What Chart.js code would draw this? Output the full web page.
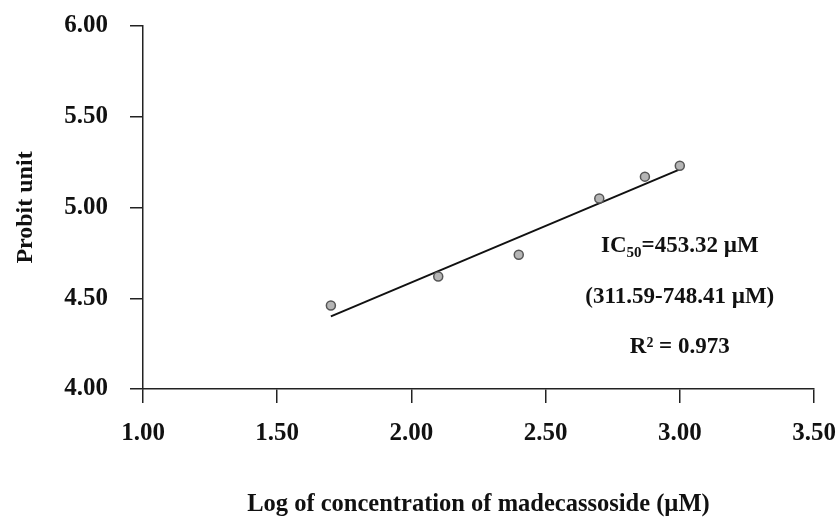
<!DOCTYPE html>
<html>
<head>
<meta charset="utf-8">
<script src="https://cdn.jsdelivr.net/npm/chart.js@4"></script>
<style>
  html, body { margin: 0; padding: 0; background: #fff; }
  #wrap { width: 837px; height: 524px; }
</style>
</head>
<body>
<div id="wrap"><canvas id="probit"></canvas></div>
<script>
// log concentration vs probit values
const logConc = [1.70, 2.10, 2.40, 2.70, 2.87, 3.00];
const probit = [4.46, 4.62, 4.74, 5.05, 5.17, 5.23];

// fitted regression line end points
const fitX = [1.70, 3.00];
const fitY = [4.40, 5.21];

const xTicks = [1.00, 1.50, 2.00, 2.50, 3.00, 3.50];
const yTicks = [4.00, 4.50, 5.00, 5.50, 6.00];

const serif = '"Liberation Serif", "Times New Roman", serif';

// text block on the right: IC50 result, interval, R²
const statsText = {
  id: 'statsText',
  afterDraw(chart) {
    const { ctx, scales: { x, y } } = chart;
    const cx = x.getPixelForValue(3.0);
    ctx.save();
    ctx.fillStyle = '#111';
    ctx.textBaseline = 'middle';

    // IC50 with subscript
    const y1 = y.getPixelForValue(4.79);
    const big = 'bold 23px ' + serif;
    const small = 'bold 15px ' + serif;
    ctx.font = big;
    const wIC = ctx.measureText('IC').width;
    const wRest = ctx.measureText('=453.32 µM').width;
    ctx.font = small;
    const wSub = ctx.measureText('50').width;
    const left = cx - (wIC + wSub + wRest) / 2;
    ctx.textAlign = 'left';
    ctx.font = big;
    ctx.fillText('IC', left, y1);
    ctx.font = small;
    ctx.fillText('50', left + wIC, y1 + 8);
    ctx.font = big;
    ctx.fillText('=453.32 µM', left + wIC + wSub, y1);

    ctx.textAlign = 'center';
    ctx.fillText('(311.59-748.41 µM)', cx, y.getPixelForValue(4.505));
    ctx.fillText('R² = 0.973', cx, y.getPixelForValue(4.23));
    ctx.restore();
  }
};

new Chart(document.getElementById('probit'), {
  type: 'scatter',
  data: {
    datasets: [
      {
        label: 'Probit',
        data: logConc.map((v, i) => ({ x: v, y: probit[i] })),
        pointRadius: 4.5,
        pointBackgroundColor: '#b5b5b5',
        pointBorderColor: '#555',
        pointBorderWidth: 1.5
      },
      {
        label: 'Fit',
        data: fitX.map((v, i) => ({ x: v, y: fitY[i] })),
        showLine: true,
        borderColor: '#111',
        borderWidth: 2,
        pointRadius: 0
      }
    ]
  },
  options: {
    responsive: true,
    maintainAspectRatio: false,
    animation: false,
    layout: { padding: { top: 26, right: 23, left: 0, bottom: 0 } },
    plugins: {
      legend: { display: false },
      tooltip: { enabled: false }
    },
    scales: {
      x: {
        type: 'linear',
        min: 1.0,
        max: 3.5,
        afterBuildTicks: s => { s.ticks = xTicks.map(v => ({ value: v })); },
        afterFit: s => {
          s.height = 524 - 389;
          s.paddingLeft = 0;
          s.paddingRight = 0;
        },
        border: { display: true, color: '#222', width: 1.5 },
        grid: { drawOnChartArea: false, color: '#222', lineWidth: 1.5, tickLength: 14 },
        ticks: {
          color: '#111',
          padding: 16,
          maxRotation: 0,
          font: { family: serif, size: 25, weight: 'bold' },
          callback: v => v.toFixed(2)
        },
        title: {
          display: true,
          text: 'Log of concentration of madecassoside (µM)',
          color: '#111',
          padding: { top: 0, bottom: 5 },
          font: { family: serif, size: 24.5, weight: 'bold' }
        }
      },
      y: {
        min: 4.0,
        max: 6.0,
        afterBuildTicks: s => { s.ticks = yTicks.map(v => ({ value: v })); },
        afterFit: s => {
          s.width = 143;
          s.paddingTop = 0;
          s.paddingBottom = 0;
        },
        border: { display: true, color: '#222', width: 1.5 },
        grid: { drawOnChartArea: false, color: '#222', lineWidth: 1.5, tickLength: 13 },
        ticks: {
          color: '#111',
          padding: 22,
          font: { family: serif, size: 25, weight: 'bold' },
          callback: v => v.toFixed(2)
        },
        title: {
          display: true,
          text: 'Probit unit',
          color: '#111',
          padding: { top: 11, bottom: 0 },
          font: { family: serif, size: 24, weight: 'bold' }
        }
      }
    }
  },
  plugins: [statsText]
});
</script>
</body>
</html>
